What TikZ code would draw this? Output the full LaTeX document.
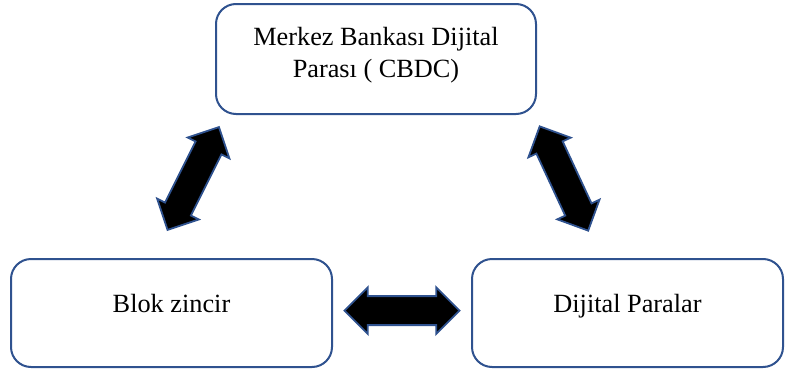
\documentclass[tikz,border=0pt]{standalone}
\usepackage{fontspec}
\setmainfont{Liberation Serif}
\usepackage{tikz}
\usetikzlibrary{positioning,shapes.arrows,calc}
\definecolor{boxblue}{RGB}{47,82,143}

\begin{document}
\begin{tikzpicture}[
  font=\fontsize{18.7}{22.8}\selectfont,
  box/.style={draw=boxblue, line width=0.05cm, rounded corners=0.5cm, align=center, inner sep=0pt, minimum height=2.7cm},
  lowbox/.style={box, text height=0.45cm, text depth=0.5cm},
  dblarrow/.style={double arrow, fill=black, draw=boxblue, line width=0.045cm, inner sep=0pt, text height=0.34cm, text depth=0.34cm, minimum height=2.875cm, double arrow head extend=0.22cm, double arrow tip angle=90}
]
\useasboundingbox (0,0) rectangle (19.65,-9.35);
% three boxes: CBDC on top, the two others side by side below it
\node[box, minimum width=8cm, minimum height=2.75cm, text depth=0.34cm] (cbdc) at (9.4,-1.475) {Merkez Bankası Dijital\\Parası ( CBDC)};
\node[lowbox, minimum width=8.025cm] (blok) at (4.2875,-7.825) {Blok zincir};
\node[lowbox, minimum width=7.775cm] (dijital) at (15.6875,-7.825) {Dijital Paralar};

% free ends of the two slanted arrows
\coordinate (lb) at ($(blok.north)+(-0.1,0.7)$);
\coordinate (lt) at ($(cbdc.south west)+(0.1,-0.3)$);
\coordinate (rt) at ($(cbdc.south east)+(0.075,-0.3)$);
\coordinate (rb) at ($(dijital.north)+(-0.99,0.7)$);

\path (lb) -- (lt) node[dblarrow, midway, sloped] (a1) {};
\path (rt) -- (rb) node[dblarrow, midway, sloped] (a2) {};
\path (blok.east) -- (dijital.west) node[dblarrow, midway, yshift=0.06cm] (a3) {};
\end{tikzpicture}
\end{document}
